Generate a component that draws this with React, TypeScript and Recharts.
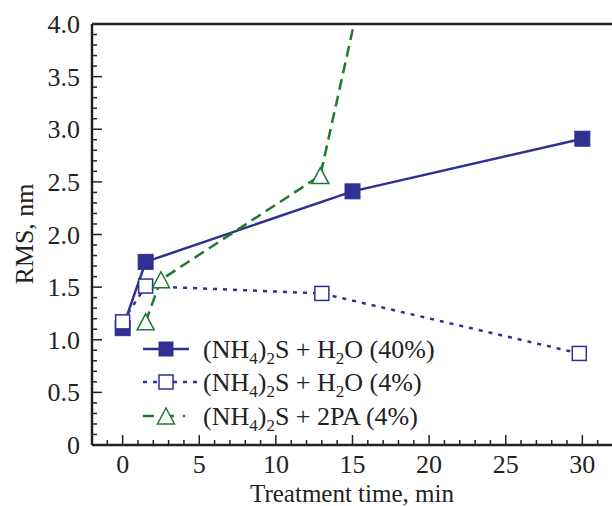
import React from 'react';
import { LineChart, Line, XAxis, YAxis, ReferenceLine } from 'recharts';

// RMS roughness vs treatment time, three treatments
const water40 = [
  { x: 0, y: 1.11 },
  { x: 1.5, y: 1.74 },
  { x: 15, y: 2.41 },
  { x: 30, y: 2.91 },
];
const water4 = [
  { x: 0, y: 1.17 },
  { x: 1.5, y: 1.51 },
  { x: 13, y: 1.44 },
  { x: 29.8, y: 0.87 },
];
const pa4 = [
  { x: 1.5, y: 1.17 },
  { x: 2.5, y: 1.57 },
  { x: 12.9, y: 2.56 },
  { x: 15.4, y: 4.2 },
];

const xMajor = [0, 5, 10, 15, 20, 25, 30];
const yMajor = [0, 0.5, 1, 1.5, 2, 2.5, 3, 3.5, 4];
const yLabels = ['0', '0.5', '1.0', '1.5', '2.0', '2.5', '3.0', '3.5', '4.0'];
const xTicks = Array.from({ length: 35 }, (_, i) => i - 2);
const yTicks = Array.from({ length: 41 }, (_, i) => i / 10);

const NAVY = '#2e3192';
const GREEN = '#1c7a32';
const FONT = '"Liberation Serif", "Times New Roman", serif';
const LEFT = 92;
const BOTTOM = 445;

const YTick = ({ y, payload }: any) => {
  const v = payload.value;
  const idx = yMajor.findIndex((m) => Math.abs(m - v) < 1e-6);
  const major = idx >= 0;
  return (
    <g>
      <line x1={LEFT} x2={LEFT + (major ? 10 : 5)} y1={y} y2={y} stroke="#222" strokeWidth={1.5} />
      {major && (
        <text x={80} y={y + 9} textAnchor="end" fontSize={26} fontFamily={FONT} fill="#222">
          {yLabels[idx]}
        </text>
      )}
    </g>
  );
};

const XTick = ({ x, payload }: any) => {
  const v = payload.value;
  const major = xMajor.includes(v);
  return (
    <g>
      <line x1={x} x2={x} y1={BOTTOM} y2={BOTTOM - (major ? 10 : 5)} stroke="#222" strokeWidth={1.5} />
      {major && (
        <text x={x} y={473} textAnchor="middle" fontSize={26} fontFamily={FONT} fill="#222">
          {v}
        </text>
      )}
    </g>
  );
};

const FilledSquare = (p: any) => (
  <rect key={p.index} x={p.cx - 7.5} y={p.cy - 7.5} width={15} height={15} fill={NAVY} stroke={NAVY} strokeWidth={1} />
);
const OpenSquare = (p: any) => (
  <rect key={p.index} x={p.cx - 7} y={p.cy - 7} width={14} height={14} fill="#fff" stroke={NAVY} strokeWidth={1.5} />
);
const OpenTriangle = (p: any) => (
  <polygon
    key={p.index}
    points={`${p.cx},${p.cy - 8} ${p.cx - 8.5},${p.cy + 8} ${p.cx + 8.5},${p.cy + 8}`}
    fill="#fff"
    stroke={GREEN}
    strokeWidth={1.5}
  />
);

const LegendText = ({ y, tail }: { y: number; tail: React.ReactNode }) => (
  <text x={203} y={y} fontSize={26} fontFamily={FONT} fill="#222">
    (NH<tspan fontSize={17} dy={6}>4</tspan>
    <tspan dy={-6}>)</tspan>
    <tspan fontSize={17} dy={6}>2</tspan>
    <tspan dy={-6}>S + </tspan>
    {tail}
  </text>
);

const Legend = () => (
  <svg width={612} height={506} style={{ position: 'absolute', left: 0, top: 0, pointerEvents: 'none' }}>
    {/* row 1 */}
    <line x1={143} x2={189} y1={349} y2={349} stroke={NAVY} strokeWidth={2.5} />
    <rect x={158.5} y={341.5} width={15} height={15} fill={NAVY} />
    <LegendText
      y={358}
      tail={
        <>
          H<tspan fontSize={17} dy={6}>2</tspan>
          <tspan dy={-6}>O (40%)</tspan>
        </>
      }
    />
    {/* row 2 */}
    <line x1={143} x2={203} y1={382} y2={382} stroke={NAVY} strokeWidth={2.5} strokeDasharray="4 6" />
    <rect x={159} y={375} width={14} height={14} fill="#fff" stroke={NAVY} strokeWidth={1.5} />
    <LegendText
      y={391}
      tail={
        <>
          H<tspan fontSize={17} dy={6}>2</tspan>
          <tspan dy={-6}>O (4%)</tspan>
        </>
      }
    />
    {/* row 3 */}
    <line x1={143} x2={203} y1={416} y2={416} stroke={GREEN} strokeWidth={2.5} strokeDasharray="11 9 11 9 2 20" />
    <polygon points="166,408 157.5,424 174.5,424" fill="#fff" stroke={GREEN} strokeWidth={1.5} />
    <LegendText y={425} tail={<>2PA (4%)</>} />
  </svg>
);

export default function App() {
  return (
    <div style={{ position: 'absolute', left: 0, top: 0, width: 612, height: 506, overflow: 'hidden', background: '#fff' }}>
      <LineChart width={620} height={506} margin={{ top: 24, right: 7, left: 0, bottom: 0 }}>
        <XAxis
          type="number"
          dataKey="x"
          domain={[-2, 32]}
          ticks={xTicks}
          interval={0}
          tick={<XTick />}
          tickLine={false}
          axisLine={{ stroke: '#222', strokeWidth: 2.5 }}
          height={61}
          allowDataOverflow
        />
        <YAxis
          type="number"
          domain={[0, 4]}
          ticks={yTicks}
          interval={0}
          tick={<YTick />}
          tickLine={false}
          axisLine={{ stroke: '#222', strokeWidth: 2.5 }}
          width={92}
          allowDataOverflow
        />
        <ReferenceLine y={4} stroke="#222" strokeWidth={2.5} />
        <Line
          data={water40}
          dataKey="y"
          stroke={NAVY}
          strokeWidth={2.5}
          dot={FilledSquare}
          isAnimationActive={false}
        />
        <Line
          data={water4}
          dataKey="y"
          stroke={NAVY}
          strokeWidth={2.5}
          strokeDasharray="4 6"
          dot={OpenSquare}
          isAnimationActive={false}
        />
        <Line
          data={pa4}
          dataKey="y"
          stroke={GREEN}
          strokeWidth={2.5}
          strokeDasharray="11 6"
          dot={OpenTriangle}
          isAnimationActive={false}
        />
        <text
          x={33}
          y={234}
          transform="rotate(-90 33 234)"
          textAnchor="middle"
          fontSize={26}
          fontFamily={FONT}
          fill="#222"
        >
          RMS, nm
        </text>
        <text x={352} y={502} textAnchor="middle" fontSize={25} fontFamily={FONT} fill="#222">
          Treatment time, min
        </text>
      </LineChart>
      <Legend />
    </div>
  );
}
